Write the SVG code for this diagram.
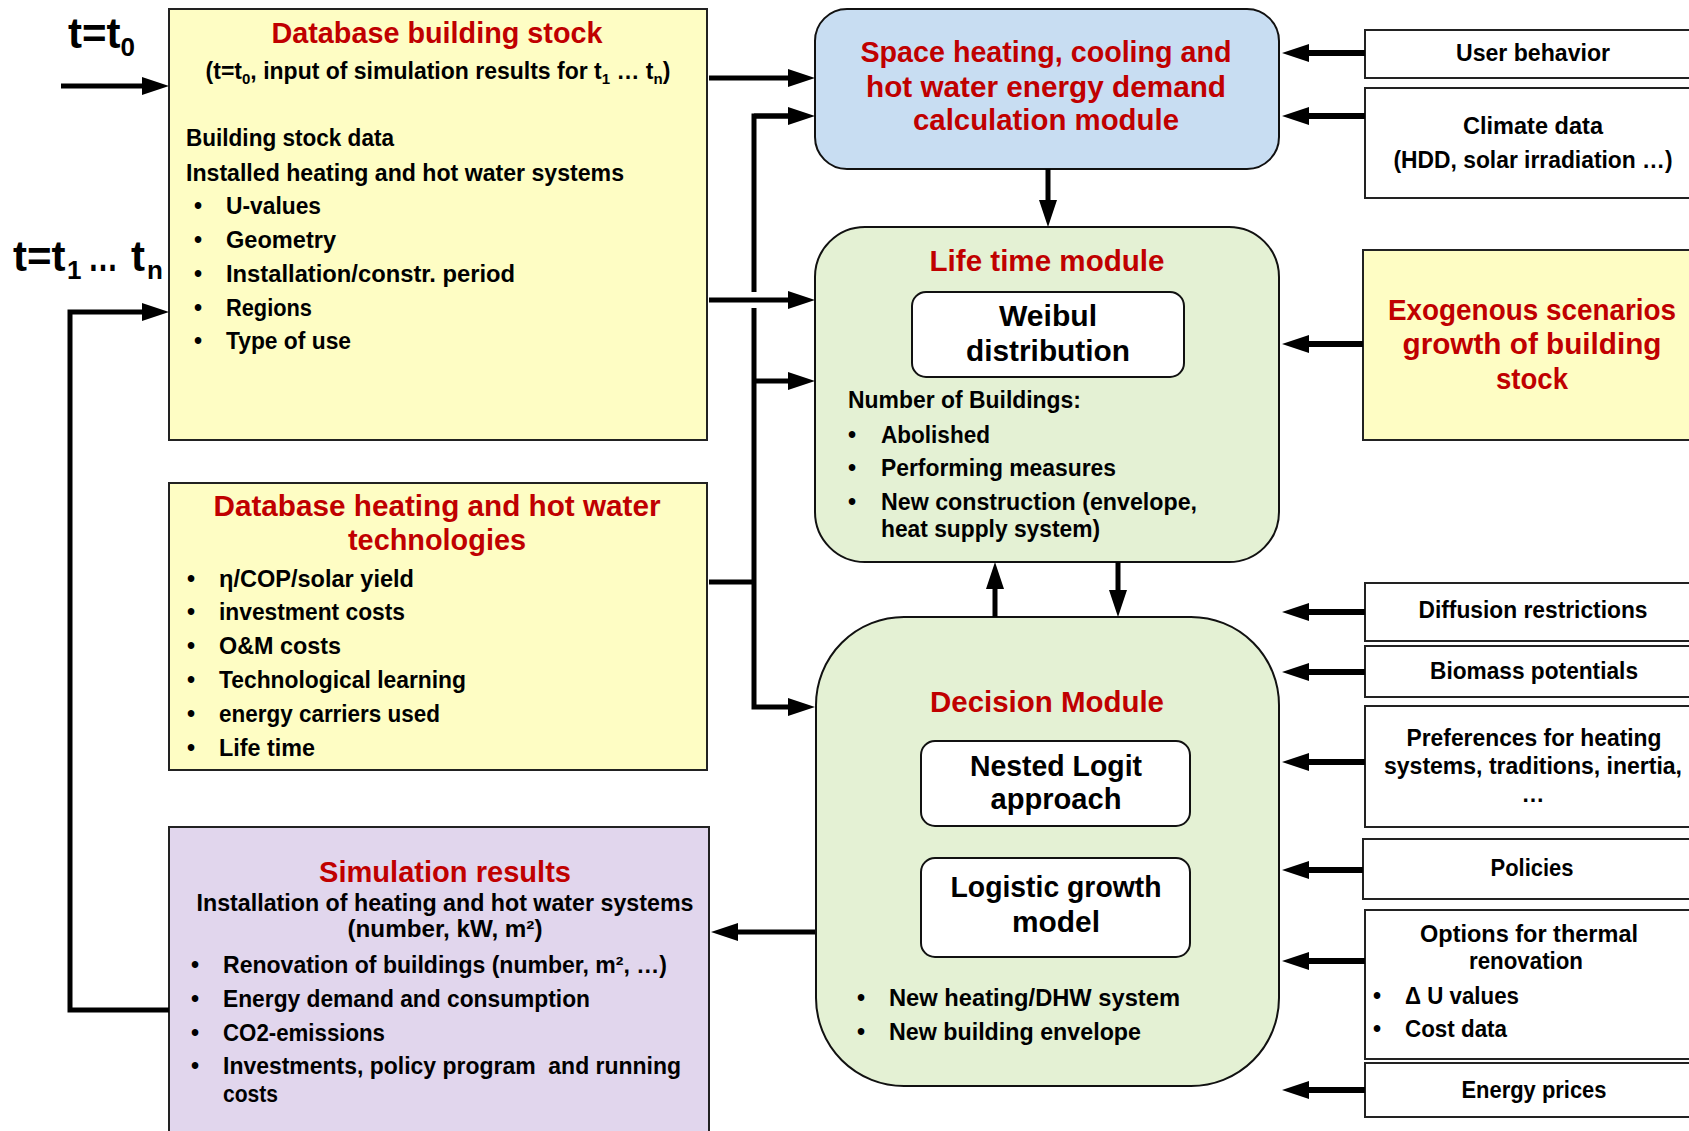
<svg xmlns="http://www.w3.org/2000/svg" width="1689" height="1131" viewBox="0 0 1689 1131">
<style>
text{font-family:'Liberation Sans',Arial,sans-serif;font-weight:bold}
.ti{font-size:29px;fill:#C00000;text-anchor:middle}
.tx{font-size:23px;fill:#000}
.c{text-anchor:middle}
.bg{font-size:29px;fill:#000;text-anchor:middle}
.ln{stroke:#000;stroke-width:5;fill:none}
.rl{stroke:#000;stroke-width:6;fill:none}
.sq{stroke:#222;stroke-width:2}
.rd{stroke:#111;stroke-width:2}
.yel{fill:#FEFDC4}
.blu{fill:#C8DDF2}
.grn{fill:#E4F1D4}
.pur{fill:#E1D6ED}
.wht{fill:#FFFFFF}
</style>
<defs>
<marker id="ah" markerUnits="userSpaceOnUse" markerWidth="28" markerHeight="18" refX="1" refY="9" orient="auto" overflow="visible">
<path d="M0,0 L27,9 L0,18 z" fill="#000"/>
</marker>
</defs>

<g id="label-t0">
<text x="68" y="48" style="font-size:42px">t=t<tspan dy="8" style="font-size:26px">0</tspan></text>
</g>
<g id="label-t1n">
<text y="271" style="font-size:42px"><tspan x="13">t=t</tspan><tspan x="67" dy="8" style="font-size:26px">1</tspan><tspan x="131" dy="-8">t</tspan><tspan x="147" dy="8" style="font-size:26px">n</tspan></text>
<text x="88" y="271" style="font-size:42px" textLength="30" lengthAdjust="spacingAndGlyphs">…</text>
</g>

<g id="db-building-stock">
<rect x="169" y="9" width="538" height="431" class="yel sq"/>
<text x="437" y="43" class="ti" textLength="331" lengthAdjust="spacingAndGlyphs">Database building stock</text>
<text x="438" y="79" class="tx c">(t=t<tspan dy="5" style="font-size:15px">0</tspan><tspan dy="-5">, input of simulation results for t</tspan><tspan dy="5" style="font-size:15px">1</tspan><tspan dy="-5"> … t</tspan><tspan dy="5" style="font-size:15px">n</tspan><tspan dy="-5">)</tspan></text>
<text x="186" y="146" class="tx" textLength="208" lengthAdjust="spacingAndGlyphs">Building stock data</text>
<text x="186" y="181" class="tx" textLength="438" lengthAdjust="spacingAndGlyphs">Installed heating and hot water systems</text>
<text x="198" y="214" class="tx c">•</text><text x="226" y="214" class="tx" textLength="95" lengthAdjust="spacingAndGlyphs">U-values</text>
<text x="198" y="248" class="tx c">•</text><text x="226" y="248" class="tx" textLength="110" lengthAdjust="spacingAndGlyphs">Geometry</text>
<text x="198" y="282" class="tx c">•</text><text x="226" y="282" class="tx" textLength="289" lengthAdjust="spacingAndGlyphs">Installation/constr. period</text>
<text x="198" y="316" class="tx c">•</text><text x="226" y="316" class="tx" textLength="86" lengthAdjust="spacingAndGlyphs">Regions</text>
<text x="198" y="349" class="tx c">•</text><text x="226" y="349" class="tx" textLength="125" lengthAdjust="spacingAndGlyphs">Type of use</text>
</g>

<g id="db-heating-technologies">
<rect x="169" y="483" width="538" height="287" class="yel sq"/>
<text x="437" y="516" class="ti" textLength="447" lengthAdjust="spacingAndGlyphs">Database heating and hot water</text>
<text x="437" y="550" class="ti" textLength="178" lengthAdjust="spacingAndGlyphs">technologies</text>
<text x="191" y="587" class="tx c">•</text><text x="219" y="587" class="tx" textLength="195" lengthAdjust="spacingAndGlyphs">η/COP/solar yield</text>
<text x="191" y="620" class="tx c">•</text><text x="219" y="620" class="tx" textLength="186" lengthAdjust="spacingAndGlyphs">investment costs</text>
<text x="191" y="654" class="tx c">•</text><text x="219" y="654" class="tx" textLength="122" lengthAdjust="spacingAndGlyphs">O&amp;M costs</text>
<text x="191" y="688" class="tx c">•</text><text x="219" y="688" class="tx" textLength="247" lengthAdjust="spacingAndGlyphs">Technological learning</text>
<text x="191" y="722" class="tx c">•</text><text x="219" y="722" class="tx" textLength="221" lengthAdjust="spacingAndGlyphs">energy carriers used</text>
<text x="191" y="756" class="tx c">•</text><text x="219" y="756" class="tx" textLength="96" lengthAdjust="spacingAndGlyphs">Life time</text>
</g>

<g id="simulation-results">
<rect x="169" y="827" width="540" height="320" class="pur sq"/>
<text x="445" y="882" class="ti" textLength="252" lengthAdjust="spacingAndGlyphs">Simulation results</text>
<text x="445" y="911" class="tx c" textLength="497" lengthAdjust="spacingAndGlyphs">Installation of heating and hot water systems</text>
<text x="445" y="937" class="tx c" textLength="195" lengthAdjust="spacingAndGlyphs">(number, kW, m²)</text>
<text x="195" y="973" class="tx c">•</text><text x="223" y="973" class="tx" textLength="444" lengthAdjust="spacingAndGlyphs">Renovation of buildings (number, m², …)</text>
<text x="195" y="1007" class="tx c">•</text><text x="223" y="1007" class="tx" textLength="367" lengthAdjust="spacingAndGlyphs">Energy demand and consumption</text>
<text x="195" y="1041" class="tx c">•</text><text x="223" y="1041" class="tx" textLength="162" lengthAdjust="spacingAndGlyphs">CO2-emissions</text>
<text x="195" y="1074" class="tx c">•</text><text x="223" y="1074" class="tx" textLength="458" lengthAdjust="spacingAndGlyphs" xml:space="preserve">Investments, policy program  and running</text>
<text x="223" y="1102" class="tx" textLength="55" lengthAdjust="spacingAndGlyphs">costs</text>
</g>

<g id="energy-demand-module">
<rect x="815" y="9" width="464" height="160" rx="32" ry="32" class="blu rd"/>
<text x="1046" y="62" class="ti" textLength="371" lengthAdjust="spacingAndGlyphs">Space heating, cooling and</text>
<text x="1046" y="97" class="ti" textLength="360" lengthAdjust="spacingAndGlyphs">hot water energy demand</text>
<text x="1046" y="130" class="ti" textLength="266" lengthAdjust="spacingAndGlyphs">calculation module</text>
</g>

<g id="life-time-module">
<rect x="815" y="227" width="464" height="335" rx="50" ry="50" class="grn rd"/>
<text x="1047" y="271" class="ti" textLength="235" lengthAdjust="spacingAndGlyphs">Life time module</text>
<rect x="912" y="292" width="272" height="85" rx="14" ry="14" class="wht rd"/>
<text x="1048" y="326" class="bg" textLength="98" lengthAdjust="spacingAndGlyphs">Weibul</text>
<text x="1048" y="361" class="bg" textLength="164" lengthAdjust="spacingAndGlyphs">distribution</text>
<text x="848" y="408" class="tx" textLength="233" lengthAdjust="spacingAndGlyphs">Number of Buildings:</text>
<text x="852" y="443" class="tx c">•</text><text x="881" y="443" class="tx" textLength="109" lengthAdjust="spacingAndGlyphs">Abolished</text>
<text x="852" y="476" class="tx c">•</text><text x="881" y="476" class="tx" textLength="235" lengthAdjust="spacingAndGlyphs">Performing measures</text>
<text x="852" y="510" class="tx c">•</text><text x="881" y="510" class="tx" textLength="316" lengthAdjust="spacingAndGlyphs">New construction (envelope,</text>
<text x="881" y="537" class="tx" textLength="219" lengthAdjust="spacingAndGlyphs">heat supply system)</text>
</g>

<g id="decision-module">
<rect x="816" y="617" width="463" height="469" rx="88" ry="88" class="grn rd"/>
<text x="1047" y="712" class="ti" textLength="234" lengthAdjust="spacingAndGlyphs">Decision Module</text>
<rect x="921" y="741" width="269" height="85" rx="14" ry="14" class="wht rd"/>
<text x="1056" y="776" class="bg" textLength="172" lengthAdjust="spacingAndGlyphs">Nested Logit</text>
<text x="1056" y="809" class="bg" textLength="131" lengthAdjust="spacingAndGlyphs">approach</text>
<rect x="921" y="858" width="269" height="99" rx="14" ry="14" class="wht rd"/>
<text x="1056" y="897" class="bg" textLength="211" lengthAdjust="spacingAndGlyphs">Logistic growth</text>
<text x="1056" y="932" class="bg" textLength="88" lengthAdjust="spacingAndGlyphs">model</text>
<text x="861" y="1006" class="tx c">•</text><text x="889" y="1006" class="tx" textLength="291" lengthAdjust="spacingAndGlyphs">New heating/DHW system</text>
<text x="861" y="1040" class="tx c">•</text><text x="889" y="1040" class="tx" textLength="252" lengthAdjust="spacingAndGlyphs">New building envelope</text>
</g>

<g id="user-behavior">
<rect x="1365" y="30" width="340" height="48" class="wht sq"/>
<text x="1533" y="61" class="tx c" textLength="154" lengthAdjust="spacingAndGlyphs">User behavior</text>
</g>
<g id="climate-data">
<rect x="1365" y="88" width="340" height="110" class="wht sq"/>
<text x="1533" y="134" class="tx c" textLength="140" lengthAdjust="spacingAndGlyphs">Climate data</text>
<text x="1533" y="168" class="tx c" textLength="279" lengthAdjust="spacingAndGlyphs">(HDD, solar irradiation …)</text>
</g>
<g id="exogenous-scenarios">
<rect x="1363" y="250" width="340" height="190" class="yel sq"/>
<text x="1532" y="320" class="ti" textLength="288" lengthAdjust="spacingAndGlyphs">Exogenous scenarios</text>
<text x="1532" y="354" class="ti" textLength="259" lengthAdjust="spacingAndGlyphs">growth of building</text>
<text x="1532" y="389" class="ti" textLength="72" lengthAdjust="spacingAndGlyphs">stock</text>
</g>
<g id="diffusion-restrictions">
<rect x="1365" y="583" width="340" height="58" class="wht sq"/>
<text x="1533" y="618" class="tx c" textLength="229" lengthAdjust="spacingAndGlyphs">Diffusion restrictions</text>
</g>
<g id="biomass-potentials">
<rect x="1365" y="646" width="340" height="51" class="wht sq"/>
<text x="1534" y="679" class="tx c" textLength="208" lengthAdjust="spacingAndGlyphs">Biomass potentials</text>
</g>
<g id="preferences">
<rect x="1365" y="706" width="340" height="121" class="wht sq"/>
<text x="1534" y="746" class="tx c" textLength="255" lengthAdjust="spacingAndGlyphs">Preferences for heating</text>
<text x="1533" y="774" class="tx c" textLength="298" lengthAdjust="spacingAndGlyphs">systems, traditions, inertia,</text>
<text x="1533" y="802" class="tx c">…</text>
</g>
<g id="policies">
<rect x="1363" y="839" width="340" height="60" class="wht sq"/>
<text x="1532" y="876" class="tx c" textLength="83" lengthAdjust="spacingAndGlyphs">Policies</text>
</g>
<g id="thermal-renovation">
<rect x="1365" y="910" width="340" height="149" class="wht sq"/>
<text x="1529" y="942" class="tx c" textLength="218" lengthAdjust="spacingAndGlyphs">Options for thermal</text>
<text x="1526" y="969" class="tx c" textLength="114" lengthAdjust="spacingAndGlyphs">renovation</text>
<text x="1377" y="1004" class="tx c">•</text><text x="1405" y="1004" class="tx" textLength="114" lengthAdjust="spacingAndGlyphs">Δ U values</text>
<text x="1377" y="1037" class="tx c">•</text><text x="1405" y="1037" class="tx" textLength="102" lengthAdjust="spacingAndGlyphs">Cost data</text>
</g>
<g id="energy-prices">
<rect x="1365" y="1063" width="340" height="54" class="wht sq"/>
<text x="1534" y="1098" class="tx c" textLength="145" lengthAdjust="spacingAndGlyphs">Energy prices</text>
</g>

<g id="connectors">
<line x1="61" y1="86" x2="143" y2="86" class="ln" marker-end="url(#ah)"/>
<polyline points="169,1010 70,1010 70,312 143,312" class="ln" stroke-linejoin="miter" marker-end="url(#ah)"/>
<line x1="709" y1="78" x2="789" y2="78" class="ln" marker-end="url(#ah)"/>
<line x1="709" y1="300" x2="789" y2="300" class="ln" marker-end="url(#ah)"/>
<polyline points="789,116 754,116 754,292" class="ln"/>
<polyline points="754,308 754,707 789,707" class="ln" marker-end="url(#ah)"/>
<line x1="754" y1="381" x2="789" y2="381" class="ln" marker-end="url(#ah)"/>
<line x1="709" y1="582" x2="754" y2="582" class="ln"/>
<line x1="754" y1="116" x2="789" y2="116" class="ln" marker-end="url(#ah)"/>
<line x1="1048" y1="169" x2="1048" y2="201" class="ln" marker-end="url(#ah)"/>
<line x1="1118" y1="562" x2="1118" y2="591" class="ln" marker-end="url(#ah)"/>
<line x1="995" y1="617" x2="995" y2="588" class="ln" marker-end="url(#ah)"/>
<line x1="815" y1="932" x2="737" y2="932" class="ln" marker-end="url(#ah)"/>
<line x1="1365" y1="53" x2="1308" y2="53" class="rl" marker-end="url(#ah)"/>
<line x1="1365" y1="116" x2="1308" y2="116" class="rl" marker-end="url(#ah)"/>
<line x1="1363" y1="344" x2="1308" y2="344" class="rl" marker-end="url(#ah)"/>
<line x1="1365" y1="612" x2="1308" y2="612" class="rl" marker-end="url(#ah)"/>
<line x1="1365" y1="672" x2="1308" y2="672" class="rl" marker-end="url(#ah)"/>
<line x1="1365" y1="762" x2="1308" y2="762" class="rl" marker-end="url(#ah)"/>
<line x1="1363" y1="870" x2="1308" y2="870" class="rl" marker-end="url(#ah)"/>
<line x1="1365" y1="961" x2="1308" y2="961" class="rl" marker-end="url(#ah)"/>
<line x1="1365" y1="1090" x2="1308" y2="1090" class="rl" marker-end="url(#ah)"/>
</g>
</svg>
